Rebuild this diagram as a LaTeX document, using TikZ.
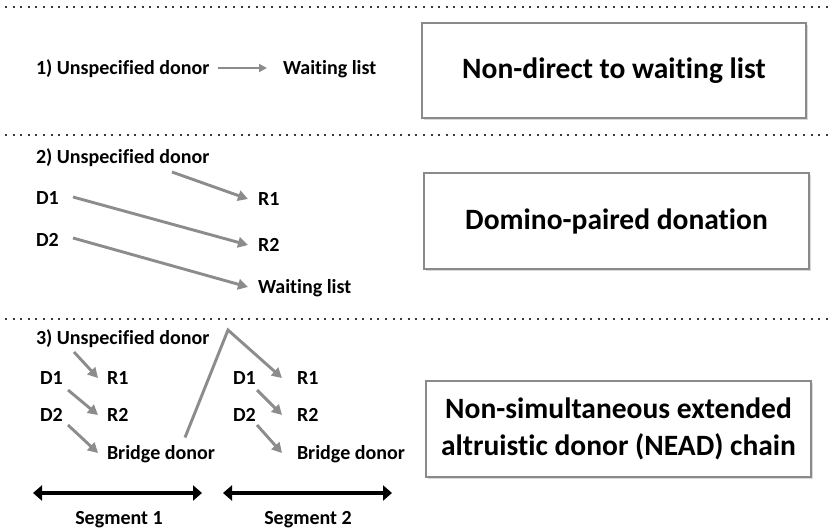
\documentclass[tikz,border=0pt]{standalone}
\usepackage{fontspec}
\setmainfont{Carlito}[Ligatures=NoCommon]
\usetikzlibrary{positioning,calc,arrows.meta,shadows}
\definecolor{arrowgray}{HTML}{8C8C8C}
\definecolor{boxgray}{HTML}{8A8A8A}
\definecolor{dotgray}{HTML}{3A3A3A}

\begin{document}
\begin{tikzpicture}[x=1pt,y=-1pt,
				lbl/.style={font=\fontsize{20}{24}\selectfont\bfseries,inner sep=0pt,outer sep=0pt,
					text height=13pt,text depth=0pt,anchor=west},
				catbox/.style={font=\fontsize{29.5}{37}\selectfont\bfseries,draw=boxgray,line width=1.3pt,
					fill=white,minimum width=385pt,minimum height=96pt,align=center,
					drop shadow={shadow xshift=1.5pt,shadow yshift=-1.5pt,opacity=0.3}},
				flow/.style={draw=arrowgray,line width=2.9pt,-{Triangle[length=10pt,width=10.5pt]}},
				span/.style={line width=4.5pt,{Triangle[length=9pt,width=15pt]}-{Triangle[length=9pt,width=15pt]}},
				dots/.style={draw=dotgray,line width=2.2pt,dash pattern=on 2pt off 5.6pt}]
				\useasboundingbox (0,0) rectangle (830,531);
				\draw[dots] (5,7) -- (830,7);
				\draw[dots] (5,135) -- (830,135);
				\draw[dots] (5,319) -- (830,319);
				
				% 1) non-direct
				\node[lbl] (US1) at (36,68)  {1) Unspecified donor};
				\node[lbl] (WL1) at (283,68) {Waiting list};
				\node[catbox,minimum width=384pt,minimum height=95pt] (BOX1) at (614,70.5) {Non-direct to waiting list};
				\draw[flow,line width=2.2pt,-{Triangle[length=8pt,width=8pt]},shorten <=9pt,shorten >=16pt] (US1) -- (WL1);
				
				% 2) domino
				\node[lbl] (US2) at (36,157)  {2) Unspecified donor};
				\node[lbl] (D1)  at (36,198)  {D1};
				\node[lbl] (D2)  at (36,240)  {D2};
				\node[lbl] (R1)  at (258,199) {R1};
				\node[lbl] (R2)  at (258,245) {R2};
				\node[lbl] (WL2) at (258,287) {Waiting list};
				\node[catbox] (BOX2) at (616.5,221) {Domino-paired donation};
				\draw[flow] ([shift={(136,15)}]US2.west) -- ([xshift=-10pt]R1.west);
				\draw[flow] ([shift={(37,-1)}]D1.west)   -- ([xshift=-10pt]R2.west);
				\draw[flow] ([shift={(37,-2)}]D2.west)   -- ([xshift=-10pt]WL2.west);
				
				% 3) NEAD chain
				\node[lbl] (US3) at (36,338)  {3) Unspecified donor};
				\node[lbl] (D1A) at (40,378)  {D1};
				\node[lbl] (R1A) at (107,378) {R1};
				\node[lbl] (D2A) at (40,415)  {D2};
				\node[lbl] (R2A) at (107,415) {R2};
				\node[lbl] (BD1) at (107,453) {Bridge donor};
				\node[lbl] (D1B) at (233,378) {D1};
				\node[lbl] (R1B) at (297,378) {R1};
				\node[lbl] (D2B) at (233,415) {D2};
				\node[lbl] (R2B) at (297,415) {R2};
				\node[lbl] (BD2) at (297,453) {Bridge donor};
				\node[catbox] (BOX3) at (618.5,429) {Non-simultaneous extended\\altruistic donor (NEAD) chain};
				\coordinate (TOP) at (228,330);
				
				\draw[flow] ([shift={(38,14)}]US3.west) -- ([xshift=-9pt]R1A.west);
				\draw[flow] ([shift={(28,12)}]D1A.west) -- ([xshift=-9pt]R2A.west);
				\draw[flow] ([shift={(28,10)}]D2A.west) -- ([xshift=-9pt]BD1.west);
				\draw[flow] ([shift={(78,-9)}]BD1.north west) -- (TOP) -- ([xshift=-15pt]R1B.west);
				\draw[flow] ([shift={(24,12)}]D1B.west) -- ([xshift=-15pt]R2B.west);
				\draw[flow] ([shift={(24,10)}]D2B.west) -- ([xshift=-15pt]BD2.west);
				
				% segments
				\node[lbl,anchor=center] (SEG1) at (119,518) {Segment 1};
				\node[lbl,anchor=center] (SEG2) at (308,518) {Segment 2};
				\coordinate (S1L) at (33,493);
				\coordinate (S1R) at (202,493);
				\coordinate (S2L) at (223,493);
				\coordinate (S2R) at (392,493);
				\draw[span] (S1L) -- (S1R);
				\draw[span] (S2L) -- (S2R);
			\end{tikzpicture}
\end{document}
